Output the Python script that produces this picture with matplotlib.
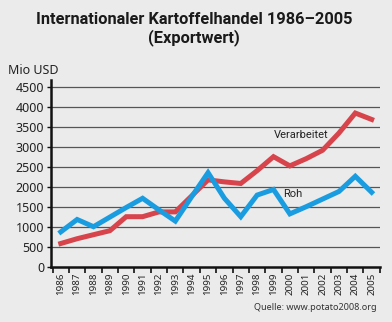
import matplotlib
matplotlib.use("Agg")
import matplotlib.pyplot as plt
import numpy as np

years = [str(y) for y in range(1986, 2006)]
verarbeitet = [580, 700, 800, 900, 1250, 1250, 1370, 1370, 1770, 2170, 2120, 2080,
               2400, 2750, 2520, 2700, 2910, 3340, 3840, 3680]
roh = [870, 1180, 1000, 1240, 1480, 1710, 1420, 1140, 1750, 2350, 1710, 1250,
       1790, 1930, 1320, 1500, 1690, 1880, 2260, 1860]
yticks = [0, 500, 1000, 1500, 2000, 2500, 3000, 3500, 4000, 4500]

narrow = ["Liberation Sans Narrow", "Roboto", "DejaVu Sans"]
bg = "#ebebeb"
fig = plt.figure(figsize=(3.92, 3.22), dpi=100, facecolor=bg)
ax = fig.add_axes([0.130, 0.1717, 0.839, 0.58], facecolor=bg)

x = np.arange(len(years))
for v in yticks[1:]:
    ax.axhline(v, color="#555555", lw=0.9, zorder=1)
ax.plot(x, verarbeitet, color="#d8444b", lw=3.6, solid_joinstyle="miter", zorder=3)
ax.plot(x, roh, color="#1a9de0", lw=3.6, solid_joinstyle="miter", zorder=4)

ax.set_xlim(-0.6, 19.5)
ax.set_ylim(0, 4667)
ax.set_yticks(yticks)
ax.set_yticklabels([str(v) for v in yticks], fontsize=9, family="Noto Sans", color="#222222")
ax.set_xticks(x)
ax.set_xticklabels(years, rotation=90, fontsize=7, family="Noto Sans", color="#222222")
ax.tick_params(axis="x", which="major", length=0, pad=4)
ax.set_xticks(np.arange(-0.5, 20, 1), minor=True)
ax.tick_params(axis="x", which="minor", length=4, width=1.2, color="#111111", direction="out")
ax.tick_params(axis="y", length=3, width=1, color="#111111", pad=2)

for s in ["top", "right"]:
    ax.spines[s].set_visible(False)
ax.spines["left"].set_linewidth(1.8)
ax.spines["bottom"].set_linewidth(1.8)
ax.spines["left"].set_color("#111111")
ax.spines["bottom"].set_color("#111111")

ax.text(14.7, 3290, "Verarbeitet", fontsize=8, family=narrow,
        ha="center", va="center", color="#222222")
ax.text(14.2, 1820, "Roh", fontsize=8, family=narrow,
        ha="center", va="center", color="#222222")

fig.text(0.495, 1 - 29/322, "Internationaler Kartoffelhandel 1986–2005\n(Exportwert)",
         fontsize=11.8, fontweight="bold", family=narrow,
         ha="center", va="center", linespacing=1.2, color="#1a1a1a")
fig.text(8/392, 1 - 70/322, "Mio USD", fontsize=9, family="Noto Sans",
         ha="left", va="center", color="#222222")
fig.text(377/392, 1 - 308/322, "Quelle: www.potato2008.org", fontsize=6.5,
         family="Noto Sans", ha="right", va="center", color="#333333")

fig.savefig("out.png", dpi=100, facecolor=bg)
